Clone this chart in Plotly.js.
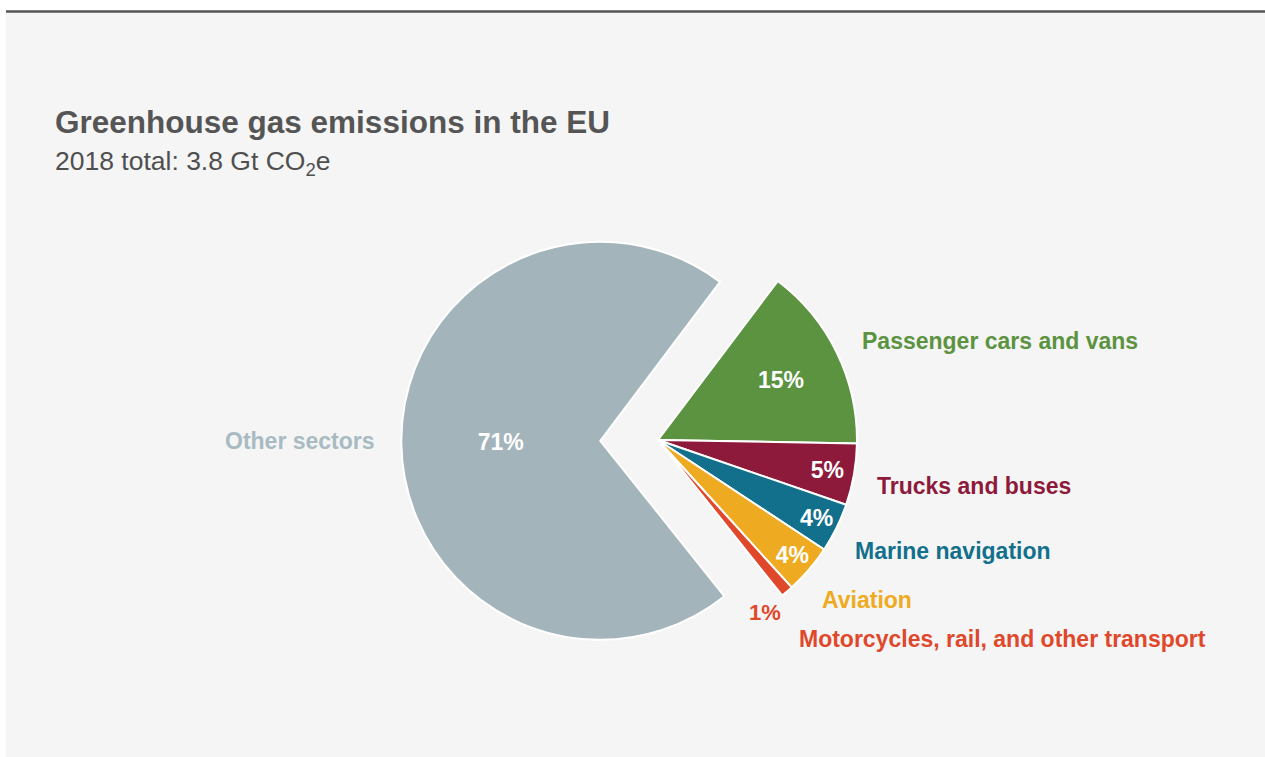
<!DOCTYPE html>
<html>
<head>
<meta charset="utf-8">
<script src="https://cdn.plot.ly/plotly-3.0.1.min.js"></script>
<style>html,body{margin:0;padding:0;background:#fff;}#chart{width:1265px;height:757px;}</style>
</head>
<body>
<div id="chart"></div>
<script>
// ---- data ----
const categories = ["Passenger cars and vans", "Trucks and buses", "Marine navigation", "Aviation", "Motorcycles, rail, and other transport", "Other sectors"];
const shares = [15, 5, 4, 4, 1, 71];
const colors = ["#5b9341", "#8e1a3b", "#12708c", "#eeab22", "#e0482c", "#a3b4bb"];
const labelColors = ["#5b9341", "#8e1a3b", "#12708c", "#eeab22", "#e0482c", "#a8bac2"];
const titleText = "Greenhouse gas emissions in the EU";
const subtitleText = "2018 total: 3.8 Gt CO<sub>2</sub>e";

const W = 1265, H = 757;
const font = "Liberation Sans, Arial, Helvetica, sans-serif";

// label placement (pixels) for category names
const labelPos = [
  {x: 860, y: 341, anchor: "left"},
  {x: 875, y: 486, anchor: "left"},
  {x: 853, y: 551, anchor: "left"},
  {x: 820, y: 600, anchor: "left"},
  {x: 797, y: 639, anchor: "left"},
  {x: 377, y: 441, anchor: "right"}
];

const pie = {
  type: "pie",
  labels: categories,
  values: shares,
  sort: false,
  direction: "clockwise",
  rotation: 37,
  pull: [0, 0, 0, 0, 0, 0.29],
  marker: {colors: colors, line: {color: "#ffffff", width: 2}},
  texttemplate: "%{percent:.0%}",
  textposition: ["inside", "inside", "inside", "inside", "none", "inside"],
  insidetextorientation: "horizontal",
  insidetextfont: {family: font, size: 23, color: "#ffffff", weight: "bold"},
  hoverinfo: "label+percent",
  showlegend: false,
  domain: {x: [0.3172, 0.7231], y: [0.0797, 0.7579]}
};

const annotations = categories.map((c, i) => ({
  xref: "paper", yref: "paper",
  x: labelPos[i].x / W, y: 1 - labelPos[i].y / H,
  xanchor: labelPos[i].anchor, yanchor: "middle",
  text: "<b>" + c + "</b>",
  showarrow: false,
  font: {family: font, size: 23, color: labelColors[i]}
}));

// small-slice percentage placed just outside the slice
const total = shares.reduce((a, b) => a + b, 0);
annotations.push({
  xref: "paper", yref: "paper", x: 765 / W, y: 1 - 612 / H,
  xanchor: "center", yanchor: "middle", showarrow: false,
  text: "<b>" + Math.round(shares[4] / total * 100) + "%</b>",
  font: {family: font, size: 22, color: colors[4]}
});

annotations.push({
  xref: "paper", yref: "paper", x: 53 / W, y: 1 - 122 / H,
  xanchor: "left", yanchor: "middle", showarrow: false,
  text: "<b>" + titleText + "</b>",
  font: {family: font, size: 31.5, color: "#555555"}
});
annotations.push({
  xref: "paper", yref: "paper", x: 53 / W, y: 1 - 163 / H,
  xanchor: "left", yanchor: "middle", showarrow: false,
  text: subtitleText,
  font: {family: font, size: 26.5, color: "#4f4f4f"}
});

const layout = {
  width: W, height: H,
  margin: {l: 0, r: 0, t: 0, b: 0},
  paper_bgcolor: "#ffffff",
  plot_bgcolor: "#ffffff",
  showlegend: false,
  shapes: [
    {type: "rect", xref: "paper", yref: "paper", x0: 6 / W, x1: 1, y0: 0, y1: 1 - 12 / H,
     fillcolor: "#f5f5f5", line: {width: 0}, layer: "below"},
    {type: "line", xref: "paper", yref: "paper", x0: 6 / W, x1: 1, y0: 1 - 11.5 / H, y1: 1 - 11.5 / H,
     line: {color: "#555555", width: 2.5}}
  ],
  annotations: annotations
};

Plotly.newPlot("chart", [pie], layout, {displayModeBar: false, staticPlot: true});
</script>
</body>
</html>
